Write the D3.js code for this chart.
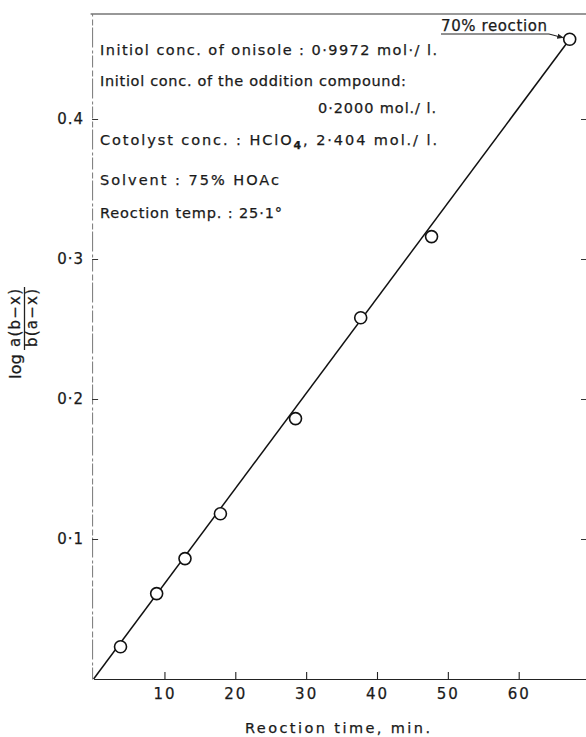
<!DOCTYPE html>
<html>
<head>
<meta charset="utf-8">
<script src="https://cdn.jsdelivr.net/npm/d3@7"></script>
<style>
  html, body { margin: 0; padding: 0; background: #fff; }
  svg { display: block; }
  text { font-family: "DejaVu Sans", sans-serif; fill: #1a1a1a; stroke: #1a1a1a; stroke-width: 0.25px; }
</style>
</head>
<body>
<svg id="chart" width="586" height="737"></svg>
<script>
// Rate plot: log[a(b-x)/b(a-x)] against reaction time
const times      = [3.8, 8.9, 12.9, 17.9, 28.5, 37.7, 47.7, 67.2];      // min
const logRatio   = [0.023, 0.061, 0.086, 0.118, 0.186, 0.258, 0.316, 0.457];
const fitTimes   = [0, 67.2];
const fitValues  = [0, 0.457];
const xTicks     = [10, 20, 30, 40, 50, 60];
const yTicks     = [0.1, 0.2, 0.3, 0.4];
const yTickLabels = ["0·1", "0·2", "0·3", "0.4"];
const conditions = [
  "Initiol conc. of onisole : 0·9972 mol·/ l.",
  "Initiol conc. of the oddition compound:",
  "0·2000 mol./ l.",
  "Cotolyst conc. : HClO|4|, 2·404 mol./ l.",
  "Solvent : 75% HOAc",
  "Reoction temp. : 25·1°"
];
const markerLabel = "70% reoction";
const xTitle = "Reoction time, min.";

const svg = d3.select("#chart");

const x = d3.scaleLinear().domain([0, 69.5]).range([93.6, 586]);
const y = d3.scaleLinear().domain([0, 0.475]).range([679, 14]);

// bottom axis, ticks pointing inward
const gx = svg.append("g")
  .attr("transform", `translate(0,${y(0)})`)
  .call(d3.axisBottom(x).tickValues(xTicks).tickSize(-7).tickSizeOuter(0).tickPadding(9));
gx.select(".domain").attr("stroke", "#222").attr("stroke-width", 1.2);
gx.selectAll(".tick line").attr("stroke", "#222").attr("stroke-width", 1.1);
gx.selectAll(".tick text")
  .style("font-family", "DejaVu Sans")
  .style("font-size", "15px")
  .style("letter-spacing", "2px")
  .attr("fill", "#1a1a1a");

// left axis, faint broken rule
const gy = svg.append("g")
  .attr("transform", `translate(${x(0) - 1.5},0)`)
  .call(d3.axisLeft(y).tickValues(yTicks).tickSize(-6).tickSizeOuter(0).tickPadding(8)
    .tickFormat((d, i) => yTickLabels[i]));
gy.select(".domain").attr("stroke", "#777").attr("stroke-width", 1)
  .attr("stroke-dasharray", "12,2,3,3,20,2,6,3");
gy.selectAll(".tick line").attr("stroke", "#333").attr("stroke-width", 1);
gy.selectAll(".tick text")
  .style("font-family", "DejaVu Sans")
  .style("font-size", "15px")
  .style("letter-spacing", "1px")
  .attr("fill", "#1a1a1a");

// right-hand tick marks (frame edge falls outside the page)
const gr = svg.append("g")
  .attr("transform", `translate(587,0)`)
  .call(d3.axisRight(y).tickValues(yTicks).tickSize(-6).tickSizeOuter(0).tickFormat(""));
gr.select(".domain").remove();
gr.selectAll(".tick line").attr("stroke", "#333").attr("stroke-width", 1);

// top frame line
svg.append("line")
  .attr("x1", x(0) - 3).attr("x2", 586)
  .attr("y1", y(0.475)).attr("y2", y(0.475))
  .attr("stroke", "#333").attr("stroke-width", 1.2);

// fitted straight line
svg.append("path")
  .datum(d3.zip(fitTimes, fitValues))
  .attr("d", d3.line().x(d => x(d[0])).y(d => y(d[1])))
  .attr("fill", "none").attr("stroke", "#111").attr("stroke-width", 1.5);

// observed points
svg.append("g").selectAll("circle")
  .data(d3.zip(times, logRatio))
  .join("circle")
  .attr("cx", d => x(d[0])).attr("cy", d => y(d[1]))
  .attr("r", 6)
  .attr("fill", "#fff").attr("stroke", "#111").attr("stroke-width", 1.6);

// condition notes
const noteLayout = [
  {x: 100, y: 55,  w: 337},
  {x: 100, y: 86,  w: 306},
  {x: 318, y: 113, w: 118},
  {x: 100, y: 145, w: 337},
  {x: 100, y: 185, w: 179},
  {x: 100, y: 218, w: 182}
];
conditions.forEach((s, i) => {
  const L = noteLayout[i];
  const t = svg.append("text")
    .attr("x", L.x).attr("y", L.y)
    .style("font-size", "14.5px")
    .attr("textLength", L.w).attr("lengthAdjust", "spacing");
  s.split("|").forEach((part, j) => {
    const ts = t.append("tspan").text(part);
    if (j === 1) ts.attr("dy", 4).style("font-size", "11px").style("font-weight", "bold");
    if (j === 2) ts.attr("dy", -4);
  });
});

// label and arrow to the 70% point
const last = times.length - 1;
const px = x(times[last]), py = y(logRatio[last]);
svg.append("text")
  .attr("x", 441).attr("y", 31)
  .style("font-size", "15px")
  .attr("textLength", 106).attr("lengthAdjust", "spacing")
  .text(markerLabel);
svg.append("line")
  .attr("x1", 441).attr("x2", 549).attr("y1", 34).attr("y2", 34)
  .attr("stroke", "#222").attr("stroke-width", 1.1);
svg.append("defs").append("marker")
  .attr("id", "arr").attr("viewBox", "0 0 10 10").attr("refX", 9).attr("refY", 5)
  .attr("markerWidth", 6).attr("markerHeight", 6).attr("orient", "auto")
  .append("path").attr("d", "M0,1 L10,5 L0,9 Z").attr("fill", "#222");
svg.append("line")
  .attr("x1", 549).attr("y1", 34).attr("x2", px - 6.5).attr("y2", py - 1.5)
  .attr("stroke", "#222").attr("stroke-width", 1.1)
  .attr("marker-end", "url(#arr)");

// x-axis title
svg.append("text")
  .attr("x", 245).attr("y", 733)
  .style("font-size", "14.5px")
  .attr("textLength", 185).attr("lengthAdjust", "spacing")
  .text(xTitle);

// y-axis title: log a(b−x)/b(a−x), set sideways
const yt = svg.append("g").attr("transform", "translate(0,330) rotate(-90)");
yt.append("text").attr("x", -49).attr("y", 21)
  .style("font-size", "15px")
  .attr("textLength", 25).attr("lengthAdjust", "spacingAndGlyphs").text("log");
yt.append("text").attr("x", -17).attr("y", 20)
  .style("font-size", "15px")
  .attr("textLength", 58).attr("lengthAdjust", "spacing").text("a(b−x)");
yt.append("line").attr("x1", -20).attr("x2", 43).attr("y1", 24.5).attr("y2", 24.5)
  .attr("stroke", "#222").attr("stroke-width", 1.3);
yt.append("text").attr("x", -17).attr("y", 37)
  .style("font-size", "15px")
  .attr("textLength", 58).attr("lengthAdjust", "spacing").text("b(a−x)");
</script>
</body>
</html>
